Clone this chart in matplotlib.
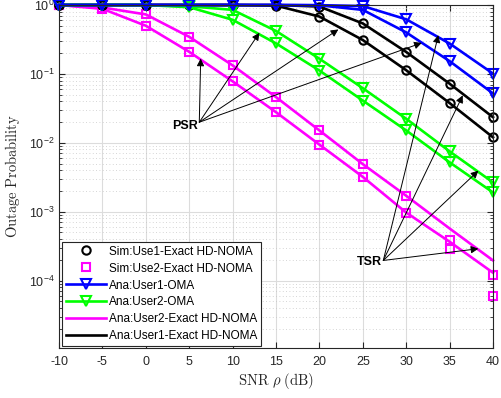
import matplotlib
matplotlib.use('Agg')

import matplotlib.pyplot as plt
from matplotlib.lines import Line2D
from matplotlib.ticker import LogLocator, NullFormatter

# ── 데이터 ────────────────────────────────────────────────────────────────────
snr_db = [-10, -5, 0, 5, 10, 15, 20, 25, 30, 35, 40]

oma_user1_a = [1, 1, 1, 1, 1, 1, 0.995, 0.966, 0.62, 0.276, 0.101]
oma_user1_b = [1, 1, 1, 1, 1, 1, 0.99, 0.85, 0.40, 0.153, 0.052]

oma_user2_a = [1, 1, 1, 0.96, 0.85, 0.42, 0.166, 0.062, 0.0223, 0.0075, 0.00266]
oma_user2_b = [1, 1, 1, 0.93, 0.61, 0.277, 0.112, 0.041, 0.0151, 0.0052, 0.0019]

noma_user1_a = [1, 1, 1, 1, 1, 1, 0.95, 0.54, 0.208, 0.072, 0.0235]
noma_user1_b = [1, 1, 1, 1, 1, 0.98, 0.68, 0.31, 0.113, 0.0377, 0.012]

noma_user2_a = [1, 0.92, 0.73, 0.345, 0.133, 0.046, 0.0151, 0.0049, 0.0017, 0.00057, 0.000196]
noma_user2_b = [1, 0.88, 0.50, 0.209, 0.078, 0.0278, 0.0094, 0.0032, 0.00097, 0.000366, 0.00013]

sim_user1_a = [1, 1, 1, 1, 1, 1, 0.95, 0.54, 0.208, 0.072, 0.0235]
sim_user1_b = [1, 1, 1, 1, 1, 0.98, 0.68, 0.31, 0.113, 0.0377, 0.012]
sim_user2_a = [1, 0.92, 0.73, 0.345, 0.133, 0.046, 0.0151, 0.0049, 0.0017, 0.000388, 0.00012]
sim_user2_b = [1, 0.88, 0.50, 0.209, 0.078, 0.0278, 0.0094, 0.0032, 0.00097, 0.000284, 0.00006]

# 주석 화살표 (SNR, 확률)
psr_origin = (6.16, 0.0199)
psr_tips = [(6.32, 0.167), (13.08, 0.395), (22.18, 0.442), (31.79, 0.282)]
tsr_origin = (27.36, 1.96e-4)
tsr_tips = [(33.70, 0.365), (36.51, 0.0488), (38.31, 0.00394), (38.31, 2.9e-4)]

# ── 스타일 ────────────────────────────────────────────────────────────────────
plt.rcParams['font.family'] = ['Liberation Sans', 'DejaVu Sans']
plt.rcParams['axes.unicode_minus'] = False
BLUE, GREEN, MAG, BLACK = '#0000FF', '#00FF00', '#FF00FF', '#000000'
LW = 1.9

fig = plt.figure(figsize=(5.01, 3.98), dpi=100)
ax = fig.add_axes([0.1178, 0.1256, 0.8663, 0.8618])

for y in (noma_user2_a, noma_user2_b):
    ax.plot(snr_db, y, color=MAG, lw=LW, clip_on=False)
for y in (sim_user2_a, sim_user2_b):
    ax.plot(snr_db, y, ls='none', marker='s', ms=5.5, mfc='none', mec=MAG,
            mew=1.5, clip_on=False)
for y in (noma_user1_a, noma_user1_b):
    ax.plot(snr_db, y, color=BLACK, lw=LW, clip_on=False)
for y in (sim_user1_a, sim_user1_b):
    ax.plot(snr_db, y, ls='none', marker='o', ms=6, mfc='none', mec=BLACK,
            mew=1.5, clip_on=False)
for y in (oma_user2_a, oma_user2_b):
    ax.plot(snr_db, y, color=GREEN, lw=LW, marker='v', ms=7.5, mfc='none',
            mew=1.5, clip_on=False)
for y in (oma_user1_a, oma_user1_b):
    ax.plot(snr_db, y, color=BLUE, lw=LW, marker='v', ms=7.5, mfc='none',
            mew=1.5, clip_on=False)

# PSR / TSR 주석
arrow_kw = dict(arrowstyle='-|>', color='k', lw=0.7, mutation_scale=11,
                shrinkA=0, shrinkB=0)
for tip in psr_tips:
    ax.annotate('', xy=tip, xytext=psr_origin, arrowprops=arrow_kw)
for tip in tsr_tips:
    ax.annotate('', xy=tip, xytext=tsr_origin, arrowprops=arrow_kw)
ax.annotate('PSR', xy=psr_origin, xytext=(-1, -3), textcoords='offset points',
            ha='right', va='center', fontsize=9, fontweight='bold')
ax.annotate('TSR', xy=tsr_origin, xytext=(-1, -1), textcoords='offset points',
            ha='right', va='center', fontsize=9, fontweight='bold')

# 축
ax.set_yscale('log')
ax.set_xlim(-10, 40)
ax.set_ylim(1.05e-5, 1)
ax.set_xticks(range(-10, 41, 5))
ax.yaxis.set_major_locator(LogLocator(base=10, numticks=10))
ax.yaxis.set_minor_locator(LogLocator(base=10, subs=range(2, 10), numticks=50))
ax.yaxis.set_minor_formatter(NullFormatter())
ax.tick_params(which='both', direction='in', top=True, right=True,
               colors='#262626', labelsize=9)
ax.tick_params(axis='x', pad=6)
ax.tick_params(axis='y', pad=3)
ax.tick_params(which='major', length=4)
ax.tick_params(which='minor', length=2)
for sp in ax.spines.values():
    sp.set_color('#262626')
    sp.set_linewidth(0.8)

ax.grid(which='major', color='#dcdcdc', lw=0.8)
ax.grid(which='minor', axis='y', color='#c8c8c8', lw=0.6, ls=(0, (1, 3)))
ax.set_axisbelow(True)

ax.set_xlabel(r'$\mathrm{SNR}\ \rho\ \mathrm{(dB)}$', math_fontfamily='cm',
              fontsize=10.5, color='#262626')
ax.set_ylabel(r'$\mathrm{Outage\ Probability}$', math_fontfamily='cm',
              fontsize=10.5, color='#262626')
ax.xaxis.set_label_coords(0.5, -0.068)
ax.yaxis.set_label_coords(-0.085, 0.5)

# 범례
handles = [
    Line2D([], [], ls='none', marker='o', ms=6, mfc='none', mec=BLACK, mew=1.5),
    Line2D([], [], ls='none', marker='s', ms=5.5, mfc='none', mec=MAG, mew=1.5),
    Line2D([], [], color=BLUE, lw=LW, marker='v', ms=7.5, mfc='none', mew=1.5),
    Line2D([], [], color=GREEN, lw=LW, marker='v', ms=7.5, mfc='none', mew=1.5),
    Line2D([], [], color=MAG, lw=LW),
    Line2D([], [], color=BLACK, lw=LW),
]
labels = [
    'Sim:Use1-Exact HD-NOMA',
    'Sim:Use2-Exact HD-NOMA',
    'Ana:User1-OMA',
    'Ana:User2-OMA',
    'Ana:User2-Exact HD-NOMA',
    'Ana:User1-Exact HD-NOMA',
]
leg = ax.legend(handles, labels, loc='lower left', bbox_to_anchor=(0.007, 0.006),
                borderaxespad=0, fontsize=8.5, handlelength=3.4, handletextpad=0.3,
                labelspacing=0.42, borderpad=0.3, fancybox=False, framealpha=1,
                edgecolor='#262626')
leg.get_frame().set_linewidth(0.8)

fig.savefig('out.png', dpi=100)
